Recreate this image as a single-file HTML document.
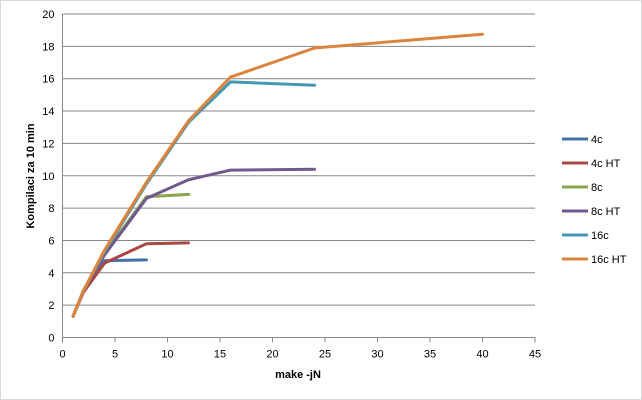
<!DOCTYPE html>
<html><head><meta charset="utf-8"><style>
body{margin:0;background:#fff;}
svg{display:block;font-family:"Liberation Sans",sans-serif;}
</style></head><body>
<svg id="c" width="642" height="400" viewBox="0 0 642 400">
<rect x="0.5" y="0.5" width="641" height="399" fill="#fff" stroke="#d9d9d9"/>
<g id="grid"></g><g id="axes"></g><g id="series"></g><g id="legend"></g>
<text x="0" y="0" transform="translate(34,176) rotate(-90)" text-anchor="middle" font-size="11" font-weight="bold">Kompilaci za 10 min</text>
<text x="298" y="378" text-anchor="middle" font-size="11" font-weight="bold">make -jN</text>
</svg>
<script>
const xTicks=[0,5,10,15,20,25,30,35,40,45];
const yTicks=[0,2,4,6,8,10,12,14,16,18,20];
const seriesNames=["4c","4c HT","8c","8c HT","16c","16c HT"];
const colors=["#4572a7","#aa4643","#89a54e","#71588f","#4198af","#db843d"];
const x4c=[1,2,4,8], y4c=[1.3,2.9,4.75,4.8];
const x4cHT=[1,2,4,8,12], y4cHT=[1.3,2.8,4.6,5.8,5.85];
const x8c=[1,2,4,8,12], y8c=[1.3,2.9,5.2,8.7,8.85];
const x8cHT=[1,2,4,8,12,16,24], y8cHT=[1.3,2.9,5.1,8.6,9.75,10.35,10.4];
const x16c=[1,2,4,8,12,16,24], y16c=[1.3,2.9,5.3,9.5,13.3,15.8,15.6];
const x16cHT=[1,2,4,8,12,16,24,40], y16cHT=[1.3,2.9,5.4,9.6,13.4,16.1,17.9,18.75];
const xs=[x4c,x4cHT,x8c,x8cHT,x16c,x16cHT], ys=[y4c,y4cHT,y8c,y8cHT,y16c,y16cHT];
const X0=62.5,X1=535,Y0=337.5,Y1=14;
const sx=v=>X0+(v-0)/(45-0)*(X1-X0);
const sy=v=>Y0-(v-0)/(20-0)*(Y0-Y1);
const NS="http://www.w3.org/2000/svg";
function mk(t,a,p){const e=document.createElementNS(NS,t);for(const k in a)e.setAttribute(k,a[k]);p.appendChild(e);return e;}
const grid=document.getElementById('grid'),axes=document.getElementById('axes'),ser=document.getElementById('series'),leg=document.getElementById('legend');
yTicks.forEach(v=>{
 const l=mk('line',{x1:X0,x2:X1,y1:sy(v),y2:sy(v),stroke:'#868686','stroke-width':1},grid);
 
 
 const t=mk('text',{x:X0-8,y:sy(v)+4,'text-anchor':'end','font-size':11},axes);
 t.textContent=v;
 
 
});
const ax=mk('line',{x1:X0,x2:X0,y1:Y1,y2:Y0,stroke:'#868686'},axes);


xTicks.forEach(v=>{
 const l=mk('line',{x1:sx(v),x2:sx(v),y1:Y0,y2:Y0+5,stroke:'#868686'},axes);
 
 
 const t=mk('text',{x:sx(v),y:Y0+20,'text-anchor':'middle','font-size':11},axes);
 t.textContent=v;
 
 
});
xs.forEach((xa,i)=>{
 const pts=xa.map((x,j)=>sx(x).toFixed(1)+','+sy(ys[i][j]).toFixed(1)).join(' ');
 const p=mk('polyline',{points:pts,fill:'none',stroke:colors[i],'stroke-width':3,'stroke-linejoin':'round','stroke-linecap':'round'},ser);
 
 
 const ly=139+i*24;
 const g=mk('g',{},leg);
 
 
 mk('line',{x1:562,x2:588,y1:ly,y2:ly,stroke:colors[i],'stroke-width':3},g);
 const t=mk('text',{x:591,y:ly+4,'font-size':11},g);
 t.textContent=seriesNames[i];
});
</script>
</body></html>
